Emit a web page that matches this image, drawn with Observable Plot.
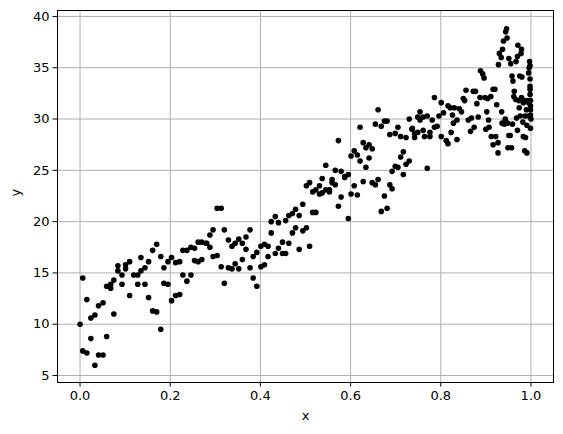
<!DOCTYPE html>
<html>
<head>
<meta charset="utf-8">
<script src="https://cdn.jsdelivr.net/npm/d3@7"></script>
<script src="https://cdn.jsdelivr.net/npm/@observablehq/plot@0.6"></script>
<style>
  html, body { margin: 0; padding: 0; background: white; }
</style>
</head>
<body>
<div id="chart"></div>
<script>
const xValues = [
0.0,0.006,0.006,0.015,0.015,0.024,0.024,0.033,0.033,0.041,0.041,0.051,0.051,0.059,0.059,0.068,0.068,0.075,0.075,0.084,0.084,0.093,0.093,0.101,0.101,0.110,0.110,0.119,0.128,0.128,0.135,0.135,0.144,0.144,0.152,0.152,0.161,0.161,0.170,0.170,0.179,0.179,0.186,0.186,0.195,0.195,0.203,0.203,0.212,0.212,0.221,0.221,0.228,0.228,0.237,0.237,0.246,0.246,0.254,0.254,0.262,0.262,0.270,0.270,0.279,0.281,0.288,0.288,0.295,0.295,0.304,0.304,0.313,0.313,0.320,0.320,0.329,0.329,0.337,0.337,0.344,0.344,0.352,0.352,0.360,0.360,0.368,0.368,0.377,0.377,0.384,0.384,0.392,0.392,0.401,0.401,0.409,0.409,0.417,0.417,0.424,0.424,0.433,0.433,0.440,0.440,0.449,0.449,0.456,0.456,0.463,0.463,0.471,0.471,0.478,0.478,0.486,0.486,0.494,0.494,0.502,0.502,0.509,0.509,0.516,0.516,0.523,0.523,0.531,0.531,0.537,0.537,0.545,0.545,0.553,0.553,0.559,0.559,0.566,0.566,0.573,0.573,0.579,0.579,0.587,0.587,0.595,0.595,0.601,0.601,0.608,0.608,0.615,0.615,0.621,0.621,0.628,0.628,0.634,0.634,0.641,0.641,0.648,0.648,0.655,0.655,0.661,0.661,0.668,0.668,0.675,0.675,0.681,0.681,0.687,0.687,0.692,0.692,0.699,0.699,0.705,0.705,0.711,0.711,0.717,0.717,0.723,0.723,0.730,0.730,0.736,0.737,0.742,0.742,0.749,0.749,0.754,0.754,0.761,0.761,0.764,0.770,0.770,0.776,0.776,0.781,0.786,0.786,0.792,0.796,0.801,0.801,0.806,0.812,0.816,0.816,0.821,0.823,0.826,0.828,0.830,0.836,0.836,0.841,0.846,0.850,0.853,0.856,0.861,0.866,0.868,0.872,0.874,0.877,0.880,0.883,0.887,0.888,0.893,0.896,0.898,0.900,0.902,0.904,0.906,0.907,0.911,0.912,0.916,0.916,0.920,0.922,0.924,0.927,0.927,0.928,0.930,0.934,0.935,0.936,0.937,0.939,0.941,0.943,0.944,0.946,0.947,0.948,0.949,0.951,0.951,0.954,0.955,0.957,0.958,0.959,0.960,0.962,0.963,0.966,0.967,0.968,0.970,0.970,0.971,0.973,0.974,0.975,0.976,0.978,0.979,0.979,0.980,0.982,0.983,0.983,0.986,0.986,0.987,0.988,0.990,0.991,0.991,0.993,0.994,0.995,0.995,0.996,0.997,0.998,0.998,0.998,0.998,0.999,0.999,0.999,0.999,1.0,0.999,0.998
];
const yValues = [
10.0,14.5,7.4,7.2,12.4,8.6,10.6,10.9,6.0,7.0,11.8,7.0,12.1,8.8,13.7,13.5,13.9,11.0,14.3,15.7,15.2,13.9,14.8,15.8,15.4,12.8,16.1,14.8,14.8,13.9,15.2,16.5,15.5,13.9,16.1,12.6,17.2,11.3,17.8,11.2,16.6,9.5,15.5,14.0,13.9,16.1,12.3,16.5,12.8,16.0,16.1,12.9,17.2,14.8,17.2,14.2,17.5,14.8,17.4,16.2,18.0,16.1,18.0,16.3,17.9,17.9,17.5,18.7,19.2,16.6,21.3,16.7,21.3,15.6,19.2,14.0,18.2,15.5,15.4,17.6,17.9,15.9,15.4,18.3,16.3,17.9,18.5,17.3,15.5,19.2,14.5,16.6,13.7,17.0,15.6,17.6,15.8,17.8,16.6,17.6,18.9,20.0,20.5,16.9,17.4,19.9,16.9,18.0,16.9,20.1,17.9,20.6,18.9,20.8,19.4,21.2,17.3,20.6,19.1,21.7,19.4,23.5,17.6,23.8,20.9,22.9,20.9,23.1,22.7,23.5,24.2,22.8,25.5,23.1,23.1,22.9,24.1,23.8,25.0,23.6,27.9,21.5,24.9,22.4,24.3,24.4,20.3,24.6,26.4,22.7,26.9,23.5,26.5,22.6,29.2,25.9,27.7,23.9,25.3,27.2,27.5,26.2,23.8,27.1,29.5,23.6,30.9,24.1,29.3,21.0,29.8,22.5,29.8,21.3,28.5,23.6,24.9,23.2,28.6,25.4,29.2,25.3,28.3,26.3,26.8,24.6,28.2,25.6,30.0,25.9,29.0,29.1,28.2,28.6,30.2,28.7,30.7,29.9,30.2,28.9,28.3,30.3,25.2,28.7,28.3,29.9,32.1,29.2,29.3,30.3,31.6,28.3,30.6,27.9,27.6,31.3,31.1,28.7,30.4,29.6,31.1,28.0,29.9,31.0,30.7,32.0,31.8,32.8,29.9,28.8,30.1,32.7,29.2,32.7,31.5,30.2,32.1,34.7,34.4,34.0,32.1,29.0,30.7,32.0,29.9,29.2,32.2,28.3,32.9,27.5,32.9,28.3,31.4,27.7,26.7,35.3,36.4,36.0,30.7,29.6,36.8,37.6,29.5,30.0,38.5,38.8,37.9,29.6,27.2,35.9,28.4,28.4,35.4,27.2,34.2,29.5,33.7,32.2,32.7,31.9,35.6,30.1,36.1,28.9,37.2,31.8,31.1,34.2,30.3,36.4,36.8,32.1,34.1,29.7,28.3,31.6,31.8,26.9,30.3,28.2,30.9,26.7,29.4,31.8,30.3,31.6,34.5,35.0,35.6,33.9,33.2,32.9,32.4,31.8,31.3,30.9,30.4,30.0,29.1,35.2
];
const xTicks = [0.0, 0.2, 0.4, 0.6, 0.8, 1.0];
const yTicks = [5, 10, 15, 20, 25, 30, 35, 40];
const xLabel = "x";
const yLabel = "y";

const data = xValues.map((x, i) => ({x, y: yValues[i]}));

const chart = Plot.plot({
  width: 563,
  height: 434,
  marginLeft: 57,
  marginRight: 10,
  marginTop: 10,
  marginBottom: 52,
  style: {fontFamily: "DejaVu Sans", fontSize: "13px", color: "black", background: "white"},
  x: {domain: [-0.05, 1.05], label: null},
  y: {domain: [4.32, 40.58], label: null},
  marks: [
    Plot.gridX(xTicks, {stroke: "#b0b0b0", strokeOpacity: 1, strokeWidth: 1}),
    Plot.gridY(yTicks, {stroke: "#b0b0b0", strokeOpacity: 1, strokeWidth: 1}),
    Plot.dot(data, {x: "x", y: "y", r: 2.8, fill: "black", stroke: "none"}),
    Plot.frame({stroke: "black", strokeWidth: 1}),
    Plot.axisX(xTicks, {tickSize: 4.5, tickPadding: 3.5, tickFormat: d3.format(".1f"), label: null, fontSize: 13}),
    Plot.axisY(yTicks, {tickSize: 4.5, tickPadding: 3.5, tickFormat: d => String(d), label: null, fontSize: 13}),
    Plot.text([xLabel], {frameAnchor: "bottom", dy: 37, text: d => d, fontSize: 13, fill: "black"}),
    Plot.text([yLabel], {frameAnchor: "left", dx: -42, rotate: -90, text: d => d, fontSize: 13, fill: "black"})
  ]
});
document.getElementById("chart").appendChild(chart);
</script>
</body>
</html>
